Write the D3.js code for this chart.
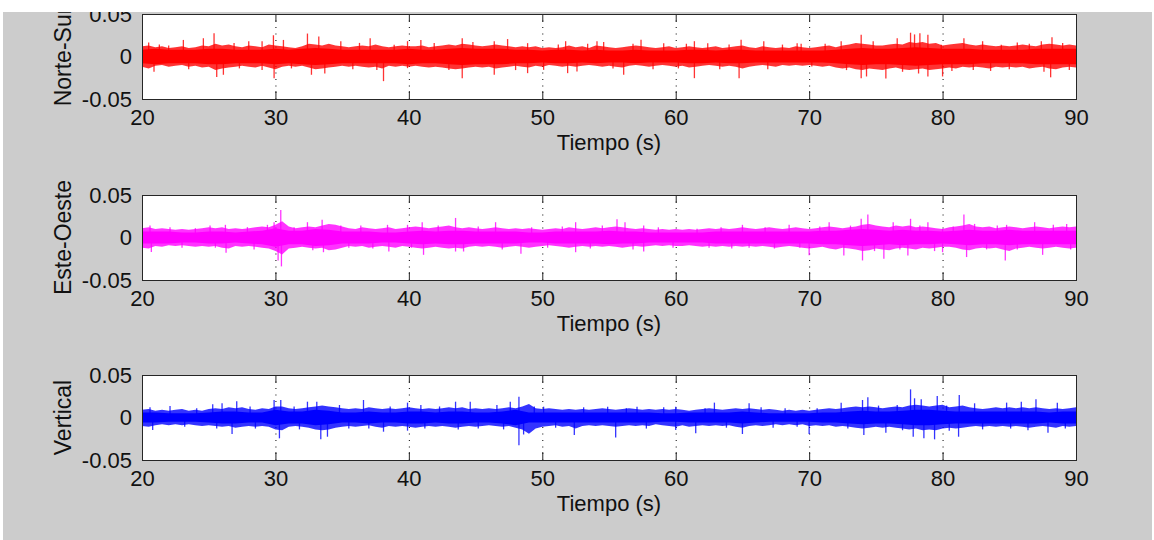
<!DOCTYPE html>
<html>
<head>
<meta charset="utf-8">
<script src="https://cdn.jsdelivr.net/npm/d3@7"></script>
<style>
  body { margin: 0; background: #fff; }
  svg { display: block; font-family: 'Liberation Sans', Arial, sans-serif; }
</style>
</head>
<body>
<script>
'use strict';

// time bases of the band readings: every second and every half second, 20 s to 90 s
var seconds = d3.range(20, 91);
var halfSeconds = d3.range(0, 141).map(function (k) { return 20 + k / 2; });

var xTicks = [20, 30, 40, 50, 60, 70, 80, 90];
var yTicks = [-0.05, 0, 0.05];
var yTickLabels = ['-0.05', '0', '0.05'];
var names = ['Norte-Sur', 'Este-Oeste', 'Vertical'];
var colors = ['#ff0000', '#ff00ff', '#0000ff'];
var xTitle = 'Tiempo (s)';

// half width of the dense part of each trace, read per second
var coreNS = [
    0.008, 0.009, 0.008, 0.008, 0.008, 0.009, 0.009, 0.008, 0.008, 0.008,
    0.009, 0.008, 0.009, 0.010, 0.009, 0.008, 0.008, 0.008, 0.008, 0.008,
    0.009, 0.008, 0.008, 0.009, 0.010, 0.009, 0.009, 0.009, 0.008, 0.008,
    0.007, 0.008, 0.008, 0.007, 0.008, 0.007, 0.007, 0.008, 0.007, 0.007,
    0.007, 0.008, 0.008, 0.007, 0.008, 0.008, 0.007, 0.007, 0.007, 0.007,
    0.007, 0.007, 0.008, 0.009, 0.010, 0.009, 0.009, 0.010, 0.011, 0.010,
    0.009, 0.009, 0.009, 0.008, 0.008, 0.008, 0.008, 0.009, 0.009, 0.009,
    0.009
];
var coreEO = [
    0.007, 0.007, 0.007, 0.006, 0.006, 0.007, 0.007, 0.006, 0.007, 0.008,
    0.011, 0.008, 0.008, 0.010, 0.009, 0.007, 0.007, 0.007, 0.006, 0.006,
    0.007, 0.008, 0.007, 0.008, 0.008, 0.007, 0.007, 0.007, 0.007, 0.006,
    0.006, 0.007, 0.007, 0.007, 0.007, 0.008, 0.007, 0.007, 0.006, 0.006,
    0.006, 0.006, 0.006, 0.007, 0.007, 0.007, 0.007, 0.007, 0.007, 0.007,
    0.007, 0.008, 0.008, 0.009, 0.010, 0.009, 0.008, 0.009, 0.008, 0.008,
    0.007, 0.008, 0.009, 0.008, 0.008, 0.009, 0.008, 0.008, 0.008, 0.008,
    0.008
];
var coreV = [
    0.006, 0.006, 0.005, 0.005, 0.005, 0.006, 0.007, 0.007, 0.006, 0.006,
    0.009, 0.007, 0.007, 0.009, 0.008, 0.006, 0.006, 0.007, 0.006, 0.006,
    0.007, 0.007, 0.006, 0.007, 0.007, 0.006, 0.006, 0.007, 0.009, 0.006,
    0.006, 0.006, 0.006, 0.006, 0.006, 0.006, 0.006, 0.006, 0.006, 0.005,
    0.005, 0.006, 0.006, 0.006, 0.006, 0.007, 0.006, 0.005, 0.005, 0.005,
    0.005, 0.006, 0.006, 0.007, 0.008, 0.007, 0.007, 0.008, 0.009, 0.009,
    0.008, 0.007, 0.007, 0.007, 0.007, 0.007, 0.007, 0.007, 0.006, 0.007,
    0.007
];

// ragged outer edge of each trace, read per half second (upper / lower size)
var fringeNSHi = [
    .012, .013, .011, .012, .010, .011, .012, .010, .011, .013, .012,
    .015, .013, .014, .012, .011, .013, .012, .011, .014, .013,
    .012, .011, .010, .012, .015, .014, .013, .015, .013, .012,
    .011, .012, .013, .012, .014, .012, .011, .012, .013, .012,
    .012, .013, .011, .012, .013, .014, .013, .015, .014, .013,
    .012, .013, .014, .013, .012, .011, .012, .011, .012, .010,
    .011, .010, .011, .013, .011, .012, .010, .013, .012, .011,
    .010, .011, .012, .013, .012, .011, .010, .011, .012, .010,
    .011, .012, .011, .010, .011, .012, .010, .011, .012, .013,
    .011, .010, .012, .011, .010, .011, .010, .012, .011, .010,
    .011, .012, .013, .011, .013, .014, .016, .015, .014, .013,
    .013, .014, .015, .014, .017, .016, .017, .015, .016, .013,
    .014, .015, .016, .014, .013, .014, .013, .012, .013, .012,
    .013, .014, .013, .012, .014, .015, .014, .013, .014, .013
];
var fringeNSLo = [
    .012, .014, .011, .010, .012, .011, .010, .012, .011, .013, .012,
    .016, .014, .013, .012, .011, .012, .013, .011, .013, .015,
    .012, .011, .012, .011, .013, .015, .014, .013, .012, .011,
    .012, .011, .012, .013, .012, .014, .011, .012, .011, .012,
    .011, .012, .013, .012, .013, .014, .015, .014, .013, .012,
    .013, .012, .014, .013, .012, .011, .012, .013, .011, .012,
    .010, .011, .012, .011, .012, .011, .010, .011, .012, .011,
    .012, .013, .011, .010, .011, .012, .011, .010, .011, .012,
    .011, .013, .012, .011, .010, .011, .012, .011, .012, .014,
    .012, .011, .010, .011, .012, .010, .011, .010, .011, .010,
    .011, .012, .011, .013, .014, .013, .015, .016, .014, .015,
    .016, .014, .013, .015, .016, .015, .014, .016, .015, .014,
    .013, .014, .012, .013, .012, .013, .014, .012, .013, .012,
    .013, .012, .014, .013, .012, .014, .015, .013, .012, .013
];
var fringeEOHi = [
    .011, .012, .010, .011, .010, .009, .010, .009, .010, .011, .012,
    .011, .012, .010, .011, .010, .011, .012, .013, .012, .015,
    .019, .013, .011, .012, .013, .012, .014, .016, .015, .013,
    .011, .010, .012, .011, .010, .011, .012, .010, .011, .012,
    .013, .012, .011, .012, .013, .014, .012, .011, .012, .011,
    .010, .011, .012, .011, .010, .011, .010, .011, .010, .009,
    .010, .011, .010, .012, .011, .010, .011, .012, .011, .012,
    .013, .012, .011, .010, .011, .010, .009, .010, .009, .010,
    .009, .010, .009, .010, .011, .010, .011, .010, .011, .012,
    .011, .010, .011, .012, .011, .010, .011, .012, .011, .010,
    .011, .012, .013, .012, .011, .012, .013, .015, .016, .014,
    .013, .012, .014, .013, .014, .012, .013, .012, .011, .010,
    .012, .013, .014, .016, .013, .012, .013, .011, .012, .013,
    .012, .011, .012, .013, .012, .011, .012, .013, .012, .013
];
var fringeEOLo = [
    .012, .013, .010, .011, .009, .010, .009, .010, .011, .010, .011,
    .010, .012, .013, .010, .011, .010, .011, .012, .013, .016,
    .020, .013, .012, .011, .012, .013, .012, .015, .014, .012,
    .010, .011, .010, .012, .011, .010, .011, .012, .010, .011,
    .012, .013, .012, .011, .012, .013, .012, .013, .011, .010,
    .011, .010, .011, .012, .011, .010, .011, .012, .011, .010,
    .009, .010, .011, .012, .011, .010, .011, .010, .011, .010,
    .011, .012, .011, .010, .011, .010, .009, .010, .009, .010,
    .010, .009, .010, .011, .010, .011, .010, .011, .010, .011,
    .010, .011, .010, .011, .012, .011, .010, .011, .012, .013,
    .012, .011, .013, .014, .012, .013, .014, .016, .015, .013,
    .014, .015, .013, .012, .013, .014, .012, .013, .012, .011,
    .011, .012, .014, .015, .013, .012, .013, .012, .014, .016,
    .013, .012, .011, .012, .013, .012, .011, .012, .013, .012
];
var fringeVHi = [
    .009, .010, .008, .009, .008, .009, .010, .008, .009, .008, .010,
    .011, .010, .012, .011, .012, .010, .009, .011, .010, .013,
    .013, .011, .010, .011, .012, .013, .014, .013, .012, .011,
    .010, .011, .010, .012, .011, .010, .011, .010, .011, .012,
    .011, .010, .011, .010, .011, .012, .011, .012, .010, .011,
    .010, .011, .010, .011, .012, .011, .013, .016, .011, .010,
    .011, .010, .009, .010, .009, .010, .009, .010, .011, .010,
    .009, .010, .011, .010, .009, .010, .009, .010, .009, .010,
    .009, .008, .009, .010, .011, .010, .009, .010, .011, .010,
    .011, .010, .009, .010, .009, .008, .009, .008, .009, .008,
    .009, .010, .011, .010, .011, .012, .013, .012, .013, .012,
    .011, .012, .013, .012, .014, .015, .014, .013, .014, .015,
    .012, .013, .014, .012, .011, .010, .011, .012, .011, .012,
    .011, .012, .011, .012, .011, .010, .011, .010, .011, .012
];
var fringeVLo = [
    .010, .011, .009, .008, .009, .008, .009, .008, .009, .010, .009,
    .010, .011, .010, .012, .011, .010, .011, .010, .011, .014,
    .015, .011, .010, .011, .012, .014, .015, .014, .012, .011,
    .010, .011, .010, .009, .011, .012, .010, .011, .010, .011,
    .012, .011, .010, .011, .010, .011, .012, .011, .010, .011,
    .010, .009, .010, .011, .010, .012, .014, .019, .013, .011,
    .010, .009, .011, .010, .013, .010, .009, .010, .009, .010,
    .011, .010, .009, .010, .009, .010, .008, .009, .010, .011,
    .009, .011, .010, .009, .010, .009, .010, .009, .011, .012,
    .010, .009, .010, .009, .008, .009, .008, .009, .008, .010,
    .009, .010, .009, .011, .010, .011, .012, .013, .012, .011,
    .012, .011, .012, .013, .014, .013, .015, .014, .015, .013,
    .012, .013, .012, .011, .010, .011, .010, .011, .010, .011,
    .010, .011, .012, .011, .010, .011, .012, .010, .011, .010
];

// single peaks that stand out of the band: [time, value]
var peaksNS = [
    [20.5, 0.0165], [20.9, -0.018], [21.3, 0.014], [22.0, 0.013], [23.1, 0.0195],
    [23.5, -0.015], [24.6, 0.0215], [25.4, 0.0275], [25.6, -0.024], [26.1, -0.0215],
    [26.9, 0.016], [27.3, -0.014], [28.0, 0.018], [29.0, 0.018], [29.0, -0.016],
    [29.85, 0.025], [29.9, -0.0255], [30.6, 0.0195], [31.2, -0.014], [32.4, 0.027],
    [32.7, -0.0215], [33.25, 0.0235], [33.7, -0.02], [34.9, 0.018], [35.8, -0.015],
    [36.3, 0.016], [37.1, 0.0215], [37.6, -0.016], [38.1, -0.029], [38.9, 0.0137],
    [39.9, 0.018], [39.9, -0.0137], [40.9, 0.0195], [41.9, 0.016], [43.0, -0.016],
    [44.0, 0.0215], [44.0, -0.0255], [44.8, 0.017], [46.4, 0.018], [46.4, -0.0215],
    [47.4, 0.0205], [48.0, -0.016], [48.9, 0.0157], [48.9, -0.0196], [50.1, -0.0157],
    [51.2, 0.014], [51.75, 0.018], [51.9, -0.0196], [52.6, -0.0176], [53.4, 0.015],
    [54.1, 0.018], [54.6, 0.017], [55.3, -0.014], [56.1, -0.0215], [56.8, 0.015],
    [57.4, 0.0196], [58.3, -0.015], [59.1, 0.0157], [60.2, -0.014], [60.8, 0.015],
    [61.4, 0.018], [61.4, -0.0255], [62.4, 0.0157], [63.3, -0.015], [64.0, 0.014],
    [64.75, -0.0255], [64.9, 0.0196], [66.6, 0.018], [66.9, -0.015], [68.0, 0.014],
    [69.1, 0.0157], [69.4, 0.015], [70.2, -0.0118], [71.2, 0.015], [72.4, 0.018],
    [72.8, -0.016], [73.9, 0.0255], [73.9, -0.0255], [74.3, -0.0235], [74.8, 0.018],
    [75.75, -0.026], [76.6, 0.0216], [77.0, -0.018], [77.6, 0.028], [77.9, 0.026],
    [78.2, -0.02], [78.3, 0.0275], [78.9, 0.0255], [78.9, -0.0235], [79.9, 0.0137],
    [80.0, -0.0235], [80.7, -0.017], [81.6, 0.0216], [82.3, -0.016], [83.0, 0.018],
    [83.6, -0.017], [84.4, 0.0137], [85.0, -0.015], [85.6, 0.0165], [86.5, 0.015],
    [87.4, 0.018], [87.6, -0.018], [88.1, -0.0245], [88.2, 0.0227], [89.0, 0.016],
    [89.5, -0.016]
];
var peaksEO = [
    [20.6, 0.014], [20.7, -0.017], [22.1, 0.0122], [23.0, -0.012], [24.0, 0.011],
    [25.1, 0.014], [25.5, -0.012], [26.25, 0.0149], [26.3, -0.018], [27.9, 0.0122],
    [28.4, -0.014], [29.4, 0.0149], [29.9, 0.018], [30.2, -0.027], [30.4, 0.0325],
    [30.45, -0.034], [31.4, 0.0122], [32.4, 0.018], [32.8, -0.015], [33.5, 0.021],
    [33.6, -0.0173], [34.9, 0.0141], [35.5, -0.012], [36.4, 0.0141], [37.3, -0.013],
    [38.4, 0.0149], [38.5, -0.0165], [39.9, 0.0149], [40.2, -0.012], [41.0, 0.018],
    [41.1, -0.0204], [42.2, 0.014], [43.5, 0.023], [43.5, -0.0165], [44.1, -0.0165],
    [45.2, 0.013], [46.5, 0.018], [47.0, -0.014], [48.4, -0.019], [49.2, 0.012],
    [50.4, -0.012], [51.5, 0.013], [52.5, 0.018], [52.5, -0.0173], [53.6, -0.013],
    [54.5, 0.014], [55.6, 0.0216], [56.2, 0.018], [56.8, -0.014], [57.6, 0.0141],
    [57.6, -0.0165], [58.7, 0.012], [59.8, -0.012], [61.6, 0.0102], [62.5, -0.012],
    [63.4, 0.012], [64.2, -0.013], [65.0, 0.0149], [65.5, -0.012], [66.7, 0.012],
    [67.4, -0.013], [68.5, 0.0149], [69.3, -0.012], [70.0, -0.021], [70.8, 0.013],
    [71.5, 0.018], [72.6, -0.0212], [73.1, 0.014], [73.9, 0.022], [74.0, -0.027],
    [74.4, 0.027], [74.9, -0.016], [75.6, -0.0251], [76.3, 0.018], [76.8, -0.014],
    [77.4, -0.0212], [77.6, 0.022], [78.3, 0.0141], [78.9, 0.018], [79.4, -0.016],
    [80.0, 0.0102], [80.0, -0.0173], [80.8, 0.013], [81.6, 0.027], [81.8, -0.023],
    [82.4, 0.016], [83.3, -0.014], [84.1, 0.014], [84.7, -0.027], [84.8, 0.0149],
    [85.6, -0.014], [86.9, 0.018], [87.5, -0.0204], [88.3, 0.0149], [89.3, 0.016],
    [89.6, -0.014]
];
var peaksV = [
    [20.6, 0.012], [20.8, -0.0147], [22.1, 0.0135], [23.2, -0.011], [24.1, 0.011],
    [25.3, 0.0155], [25.6, -0.013], [26.0, 0.0167], [26.75, -0.0194], [27.1, 0.019],
    [28.1, 0.013], [28.5, -0.013], [29.9, 0.0206], [30.3, -0.0245], [30.4, 0.0206],
    [31.4, 0.013], [31.8, -0.014], [32.4, 0.0186], [33.1, 0.0186], [33.4, -0.0255],
    [33.9, -0.0226], [34.8, 0.0147], [35.5, -0.013], [36.6, 0.0206], [37.0, -0.013],
    [38.1, -0.0167], [38.6, 0.013], [39.9, 0.0175], [39.9, -0.0155], [40.9, 0.0147],
    [41.2, -0.013], [42.3, 0.013], [43.5, 0.0186], [43.7, -0.014], [44.6, 0.0186],
    [45.2, -0.013], [46.6, 0.0147], [47.1, -0.014], [47.6, 0.0186], [48.25, 0.0245],
    [48.25, -0.0325], [48.6, -0.02], [49.4, 0.013], [50.1, 0.0127], [51.0, -0.012],
    [52.4, -0.0206], [53.1, 0.012], [54.9, 0.0127], [55.5, -0.0234], [56.3, 0.011],
    [57.1, 0.0127], [57.8, -0.013], [59.1, 0.012], [60.0, 0.0127], [60.0, -0.0147],
    [61.5, -0.0186], [62.2, 0.011], [62.9, 0.0175], [63.8, -0.012], [65.0, -0.0194],
    [65.5, 0.0167], [66.4, 0.012], [67.3, -0.012], [68.2, 0.011], [69.1, -0.011],
    [70.0, -0.0194], [70.6, 0.011], [72.4, 0.0175], [72.9, -0.013], [74.0, 0.0206],
    [74.1, -0.0206], [74.4, 0.0237], [75.2, 0.014], [75.75, -0.0179], [76.6, 0.0147],
    [77.0, -0.015], [77.6, 0.0331], [77.8, -0.0226], [77.9, 0.0226], [78.4, 0.0214],
    [78.6, -0.0245], [79.4, -0.0257], [79.6, 0.0253], [80.3, 0.014], [80.5, -0.0155],
    [81.25, 0.0265], [81.2, -0.0226], [82.4, 0.0167], [83.0, -0.014], [84.8, 0.0175],
    [85.1, -0.013], [85.9, 0.0186], [86.4, -0.015], [87.0, 0.0214], [87.9, -0.0179],
    [88.6, 0.0175], [89.2, -0.013]
];

var cores = [coreNS, coreEO, coreV];
var fringesHi = [fringeNSHi, fringeEOHi, fringeVHi];
var fringesLo = [fringeNSLo, fringeEOLo, fringeVLo];
var peaks = [peaksNS, peaksEO, peaksV];

var width = 1154;
var height = 540;
var left = 142;
var right = 1076;
var tops = [14, 195, 375];
var plotH = 85;

var svg = d3.select('body').append('svg')
    .attr('width', width)
    .attr('height', height);

var defs = svg.append('defs');
defs.append('clipPath').attr('id', 'fig-clip')
  .append('rect')
    .attr('x', 3).attr('y', 12)
    .attr('width', 1149).attr('height', height - 12);

var fig = svg.append('g').attr('clip-path', 'url(#fig-clip)');

fig.append('rect')
    .attr('x', 3).attr('y', 12)
    .attr('width', 1149).attr('height', height - 12)
    .style('fill', '#cccccc');

var x = d3.scaleLinear().domain([20, 90]).range([left, right]);

function drawPanel (i) {
    var top = tops[i];
    var y = d3.scaleLinear().domain([-0.05, 0.05]).range([top + plotH, top]);
    var g = fig.append('g');

    g.append('rect')
        .attr('x', left).attr('y', top)
        .attr('width', right - left).attr('height', plotH)
        .style('fill', '#fff');

    defs.append('clipPath').attr('id', 'plot-clip-' + i)
      .append('rect')
        .attr('x', left).attr('y', top)
        .attr('width', right - left).attr('height', plotH);

    // dotted grid, drawn under the trace like matlab does
    g.selectAll('.vgrid')
        .data(xTicks.slice(1, -1))
      .enter().append('line')
        .attr('x1', function (d) { return x(d) + 0.5; })
        .attr('x2', function (d) { return x(d) + 0.5; })
        .attr('y1', top).attr('y2', top + plotH)
        .style('stroke', '#000')
        .style('stroke-width', 1)
        .style('stroke-dasharray', '1,5.5');
    g.append('line')
        .attr('x1', left).attr('x2', right)
        .attr('y1', y(0)).attr('y2', y(0))
        .style('stroke', '#000')
        .style('stroke-dasharray', '1,5.5');

    // tick marks on all four sides, pointing inwards
    g.append('g')
        .attr('transform', 'translate(0,' + (top + plotH) + ')')
        .call(d3.axisBottom(x).tickValues(xTicks).tickSizeInner(-8).tickSizeOuter(0).tickPadding(10))
        .call(styleAxis);
    g.append('g')
        .attr('transform', 'translate(0,' + top + ')')
        .call(d3.axisTop(x).tickValues(xTicks).tickSizeInner(-8).tickSizeOuter(0).tickFormat(''))
        .call(styleAxis);
    g.append('g')
        .attr('transform', 'translate(' + left + ',0)')
        .call(d3.axisLeft(y).tickValues(yTicks).tickSizeInner(-8).tickSizeOuter(0).tickPadding(10)
            .tickFormat(function (d, k) { return yTickLabels[k]; }))
        .call(styleAxis);
    g.append('g')
        .attr('transform', 'translate(' + right + ',0)')
        .call(d3.axisRight(y).tickValues(yTicks).tickSizeInner(-8).tickSizeOuter(0).tickFormat(''))
        .call(styleAxis);

    var trace = g.append('g').attr('clip-path', 'url(#plot-clip-' + i + ')');

    var fringe = d3.area()
        .x(function (d, k) { return x(halfSeconds[k]); })
        .y0(function (d, k) { return y(-fringesLo[i][k]); })
        .y1(function (d, k) { return y(fringesHi[i][k]); });

    trace.append('path')
        .datum(fringesHi[i])
        .attr('d', fringe)
        .style('fill', colors[i])
        .style('fill-opacity', 0.8);

    var band = d3.area()
        .x(function (d, k) { return x(seconds[k]); })
        .y0(function (d) { return y(-d); })
        .y1(function (d) { return y(d); });

    trace.append('path')
        .datum(cores[i])
        .attr('d', band)
        .style('fill', colors[i]);

    trace.selectAll('.peak')
        .data(peaks[i])
      .enter().append('line')
        .attr('class', 'peak')
        .attr('x1', function (d) { return x(d[0]); })
        .attr('x2', function (d) { return x(d[0]); })
        .attr('y1', y(0))
        .attr('y2', function (d) { return y(d[1]); })
        .style('stroke', colors[i])
        .style('stroke-width', 1.3)
        .style('stroke-opacity', 0.8);

    g.append('rect')
        .attr('x', left + 0.5).attr('y', top + 0.5)
        .attr('width', right - left).attr('height', plotH)
        .style('fill', 'none')
        .style('stroke', '#262626')
        .style('stroke-width', 1);

    g.append('text')
        .attr('x', (left + right) / 2)
        .attr('y', top + plotH + 51)
        .attr('text-anchor', 'middle')
        .style('font-size', '22px')
        .style('fill', '#111')
        .text(xTitle);

    g.append('text')
        .attr('transform', 'translate(71,' + (top + plotH / 2) + ') rotate(-90)')
        .attr('text-anchor', 'middle')
        .style('font-size', '23px')
        .style('fill', '#111')
        .text(names[i]);
}

function styleAxis (sel) {
    sel.select('.domain').remove();
    sel.attr('font-family', null).attr('font-size', null);
    sel.selectAll('line').style('stroke', '#262626');
    sel.selectAll('text').style('font-size', '22px').style('fill', '#111');
}

[0, 1, 2].forEach(drawPanel);
</script>
</body>
</html>
